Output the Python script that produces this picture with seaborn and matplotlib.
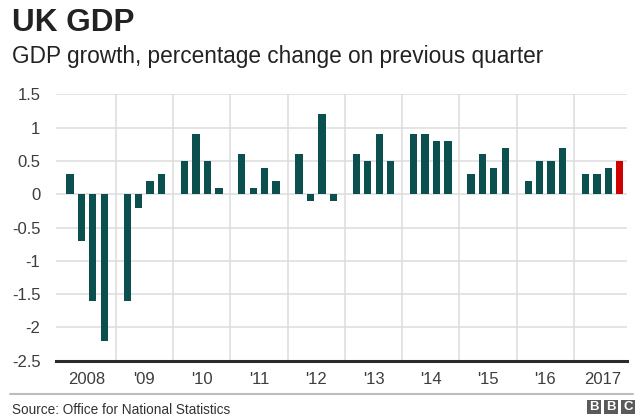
import matplotlib
matplotlib.use("Agg")
import matplotlib.pyplot as plt
from matplotlib.patches import Rectangle
import seaborn as sns
import pandas as pd
import numpy as np

years = ["2008", "'09", "'10", "'11", "'12", "'13", "'14", "'15", "'16", "2017"]
quarters = ["Q1", "Q2", "Q3", "Q4"]
growth = [
    [0.3, -0.7, -1.6, -2.2],   # 2008
    [-1.6, -0.2, 0.2, 0.3],    # 2009
    [0.5, 0.9, 0.5, 0.1],      # 2010
    [0.6, 0.1, 0.4, 0.2],      # 2011
    [0.6, -0.1, 1.2, -0.1],    # 2012
    [0.6, 0.5, 0.9, 0.5],      # 2013
    [0.9, 0.9, 0.8, 0.8],      # 2014
    [0.3, 0.6, 0.4, 0.7],      # 2015
    [0.2, 0.5, 0.5, 0.7],      # 2016
    [0.3, 0.3, 0.4, 0.5],      # 2017
]
y_ticks = [1.5, 1, 0.5, 0, -0.5, -1, -1.5, -2, -2.5]
y_tick_labels = ["1.5", "1", "0.5", "0", "-0.5", "-1", "-1.5", "-2", "-2.5"]

TEAL = "#0b4f4e"
RED = "#d10000"
GRID = "#dcdcdc"
TEXT = "#3d3d3d"

rows = []
n_years = len(years)
for yi, vals in enumerate(growth):
    for qi, v in enumerate(vals):
        latest = (yi == n_years - 1 and qi == len(vals) - 1)
        rows.append({"pos": yi * 5 + 1 + qi, "value": v,
                     "kind": "latest" if latest else "past"})
df = pd.DataFrame(rows)

sns.set_theme(style="white")
plt.rcParams["font.family"] = ["Liberation Sans", "DejaVu Sans"]
plt.rcParams["axes.unicode_minus"] = False

fig = plt.figure(figsize=(6.4, 4.2), dpi=100)
ax = fig.add_axes([55.7 / 640, 1 - 360.7 / 420, (626.7 - 55.7) / 640, (360.7 - 94.3) / 420])

sns.barplot(data=df, x="pos", y="value", hue="kind", native_scale=True,
            palette={"past": TEAL, "latest": RED}, width=0.64, dodge=False,
            legend=False, saturation=1, linewidth=0, ax=ax, zorder=3)

ax.set_xlim(-0.24, 49.6)
ax.set_ylim(-2.5, 1.5)
ax.set_yticks(y_ticks)
ax.set_yticklabels(y_tick_labels)
ax.set_xticks([i * 5 + 2.5 for i in range(n_years)])
ax.set_xticklabels(years)
ax.set_xticks([i * 5 for i in range(1, n_years)], minor=True)
ax.grid(True, which="major", axis="y", color=GRID, linewidth=1.1, zorder=0)
ax.grid(True, which="minor", axis="x", color=GRID, linewidth=1.1, zorder=0)
ax.grid(False, which="major", axis="x")
ax.set_xlabel("")
ax.set_ylabel("")
for s in ["top", "right", "left"]:
    ax.spines[s].set_visible(False)
ax.spines["bottom"].set_color("#2b2b2b")
ax.spines["bottom"].set_linewidth(2.2)
ax.spines["bottom"].set_zorder(5)
ax.tick_params(axis="both", which="both", length=0, labelsize=12, colors=TEXT)
ax.tick_params(axis="y", pad=11)
ax.tick_params(axis="x", pad=8)

fig.text(12 / 640, 1 - 31 / 420, "UK GDP", fontsize=22.7, fontweight="bold", color="#222222")
fig.text(12 / 640, 1 - 63 / 420, "GDP growth, percentage change on previous quarter",
         fontsize=16.3, color="#222222")
fig.add_artist(plt.Line2D([10 / 640, 633 / 640], [1 - 393.5 / 420] * 2,
                          transform=fig.transFigure, color="#bdbdbd", linewidth=1.5))
fig.text(12 / 640, 1 - 413.5 / 420, "Source: Office for National Statistics",
         fontsize=9.8, color="#333333")

for i, letter in enumerate(["B", "B", "C"]):
    x0 = 587 + i * 17
    fig.add_artist(Rectangle((x0 / 640, 1 - 413.5 / 420), 14 / 640, 14 / 420,
                             transform=fig.transFigure, color="#5a5a5a", linewidth=0))
    fig.text((x0 + 7) / 640, 1 - 406.5 / 420, letter, ha="center", va="center",
             fontsize=9.5, fontweight="bold", color="white")

fig.savefig("out.png", dpi=100)
